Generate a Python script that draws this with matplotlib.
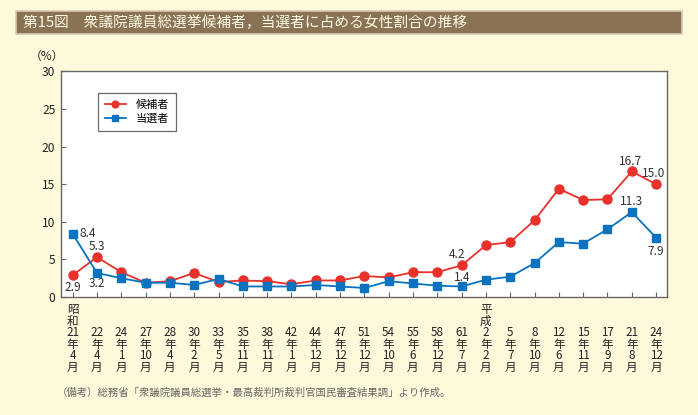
import numpy as np
import matplotlib
matplotlib.use('Agg')
import matplotlib.pyplot as plt
import matplotlib.transforms as mtransforms
from matplotlib.patches import Rectangle

plt.rcParams['font.family'] = ['Noto Sans CJK JP', 'DejaVu Sans']

# election dates (era, year, month)
eras = ['昭和', '', '', '', '', '', '', '', '', '', '', '', '', '', '', '', '',
        '平成', '', '', '', '', '', '', '']
years = ['21', '22', '24', '27', '28', '30', '33', '35', '38', '42', '44', '47', '51',
         '54', '55', '58', '61', '2', '5', '8', '12', '15', '17', '21', '24']
months = ['4', '4', '1', '10', '4', '2', '5', '11', '11', '1', '12', '12', '12',
          '10', '6', '12', '7', '2', '7', '10', '6', '11', '9', '8', '12']

# share of women (%)
candidates = [2.9, 5.3, 3.3, 1.9, 2.1, 3.2, 2.0, 2.2, 2.1, 1.7, 2.2, 2.2, 2.8,
              2.6, 3.3, 3.3, 4.2, 6.9, 7.3, 10.2, 14.4, 12.9, 13.0, 16.7, 15.0]
elected = [8.4, 3.2, 2.5, 1.9, 1.9, 1.6, 2.4, 1.4, 1.4, 1.4, 1.6, 1.4, 1.2,
           2.1, 1.8, 1.5, 1.4, 2.3, 2.7, 4.5, 7.3, 7.1, 9.0, 11.3, 7.9]

bg = '#fff9dc'
red = '#e8312b'
blue = '#0a72be'
W, H = 698, 415

fig = plt.figure(figsize=(W / 100, H / 100), dpi=100, facecolor=bg)

# title bar
fig.patches.append(Rectangle((16 / W, 1 - 34 / H), 666 / W, 23 / H, transform=fig.transFigure,
                             facecolor='#8a7254', edgecolor='#d9c9ae', linewidth=1.2))
fig.text(23 / W, 1 - 22.5 / H, '第15図　衆議院議員総選挙候補者，当選者に占める女性割合の推移',
         color='#fffbe6', fontsize=10.6, va='center', ha='left')

ax = fig.add_axes([61 / W, 1 - 297 / H, 606 / W, 225.5 / H])
ax.set_facecolor('white')
x = np.arange(len(years))
ax.plot(x, candidates, color=red, marker='o', markersize=6.5, linewidth=1.3, label='候補者')
ax.plot(x, elected, color=blue, marker='s', markersize=5.5, linewidth=1.3, label='当選者')

ax.set_xlim(-0.48, len(years) - 0.55)
ax.set_ylim(0, 30)
ax.set_yticks(np.arange(0, 31, 5))
ax.set_xticks(x)
ax.set_xticklabels([])
ax.tick_params(direction='in', length=3.5, width=0.8, color='#666666', labelsize=8.7,
               labelcolor='#222222', pad=4)
for s in ax.spines.values():
    s.set_color('#666666')
    s.set_linewidth(1.0)

# x tick labels, written vertically (x in data, y in figure coords)
xlab_tr = mtransforms.blended_transform_factory(ax.transData, fig.transFigure)
for i in range(len(years)):
    parts = [c for c in eras[i]] + [years[i], '年', months[i], '月']
    fig.text(i, 1 - 374 / H, '\n'.join(parts), transform=xlab_tr,
             ha='center', va='bottom', fontsize=8.4, linespacing=0.86, color='#222222')

# value labels
lab_kw = dict(fontsize=8.6, color='#333333', textcoords='offset points', va='center')
ax.annotate('2.9', (0, candidates[0]), xytext=(0, -8.5), ha='center', **lab_kw)
ax.annotate('8.4', (0, elected[0]), xytext=(5, 0), ha='left', **lab_kw)
ax.annotate('5.3', (1, candidates[1]), xytext=(0, 8), ha='center', **lab_kw)
ax.annotate('3.2', (1, elected[1]), xytext=(0, -7.5), ha='center', **lab_kw)
ax.annotate('4.2', (16, candidates[16]), xytext=(-3.6, 8), ha='center', **lab_kw)
ax.annotate('1.4', (16, elected[16]), xytext=(0.5, 6.8), ha='center', **lab_kw)
ax.annotate('16.7', (23, candidates[23]), xytext=(-1, 7.5), ha='center', **lab_kw)
ax.annotate('15.0', (24, candidates[24]), xytext=(-1.5, 7.5), ha='center', **lab_kw)
ax.annotate('11.3', (23, elected[23]), xytext=(-0.5, 7.5), ha='center', **lab_kw)
ax.annotate('7.9', (24, elected[24]), xytext=(0, -10), ha='center', **lab_kw)

fig.text(47 / W, 1 - 56 / H, '（%）', fontsize=8.5, ha='center', va='center', color='#222222')

leg = ax.legend(loc='upper left', bbox_to_anchor=(98 / W, 1 - 93 / H), bbox_transform=fig.transFigure,
                borderaxespad=0, fancybox=False, edgecolor='#444444', fontsize=8, markerscale=0.75,
                handlelength=1.9, handletextpad=0.9, borderpad=0.6, labelspacing=0.35)
leg.get_frame().set_linewidth(0.9)

fig.text(57 / W, 1 - 393 / H, '（備考）総務省「衆議院議員総選挙・最高裁判所裁判官国民審査結果調」より作成。',
         fontsize=7.5, ha='left', va='center', color='#666666')

fig.savefig('out.png', dpi=100, facecolor=bg)
